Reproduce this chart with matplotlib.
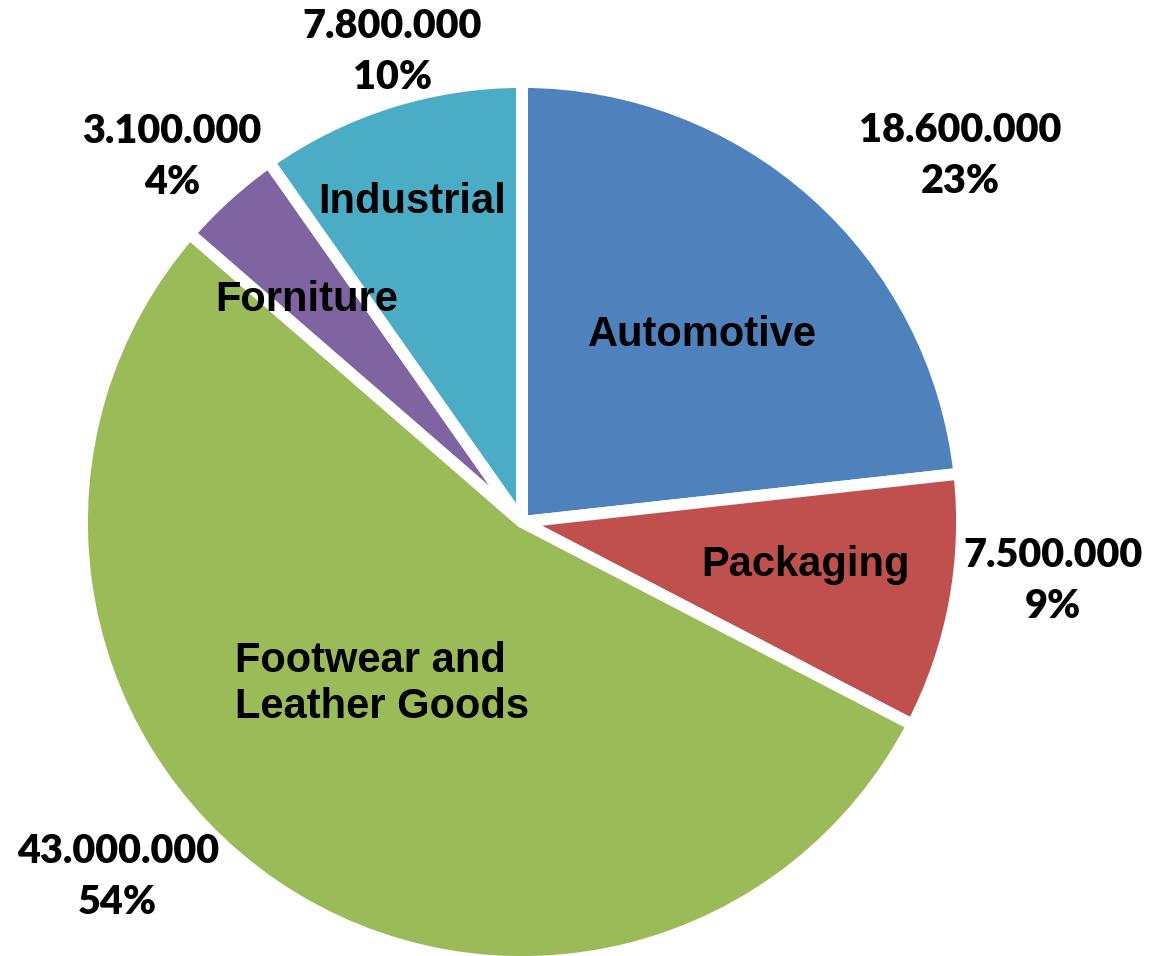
import matplotlib
matplotlib.use("Agg")
from matplotlib import pyplot as plt

# data
categories = ["Automotive", "Packaging", "Footwear and\nLeather Goods", "Forniture", "Industrial"]
values = [18600000, 7500000, 43000000, 3100000, 7800000]
colors = ["#4F81BD", "#C0504D", "#9BBB59", "#8064A2", "#4BACC6"]

# label positions (pie radius = 1, center = 0,0)
name_pos = [(0.415, 0.429), (0.651, -0.099), (-0.321, -0.372), (-0.493, 0.509), (-0.252, 0.734)]
value_pos = [(1.005, 0.839), (1.218, -0.135), (-0.927, -0.814), (-0.803, 0.837), (-0.298, 1.078)]

total = sum(values)

fig = plt.figure(figsize=(11.64, 9.56), dpi=100)
ax = fig.add_axes([0, 0, 1, 1])

wedges, _ = ax.pie(values, colors=colors, startangle=90, counterclock=False,
                   radius=1, center=(0, 0),
                   wedgeprops=dict(edgecolor="white", linewidth=8.5, joinstyle="round"))

scale = 440.0
cx, cy = 522, 522
ax.set_xlim(-cx / scale, (1164 - cx) / scale)
ax.set_ylim(-(956 - cy) / scale, cy / scale)
ax.set_aspect("auto")
ax.axis("off")

# undo the scale change for text positions
k = 436.0 / scale
for name, (x, y) in zip(categories, name_pos):
    ax.text(x * k, y * k, name, ha="center", va="center", multialignment="left",
            fontsize=30, fontweight="bold", family="Liberation Sans", color="black")

for v, (x, y) in zip(values, value_pos):
    pct = round(v / total * 100)
    label = f"{v:,}".replace(",", ".") + f"\n{pct}%"
    ax.text(x * k, y * k, label, ha="center", va="center", linespacing=1.45,
            fontsize=28.5, fontweight="heavy", family="Lato", color="black")

fig.savefig("out.png", dpi=100)
